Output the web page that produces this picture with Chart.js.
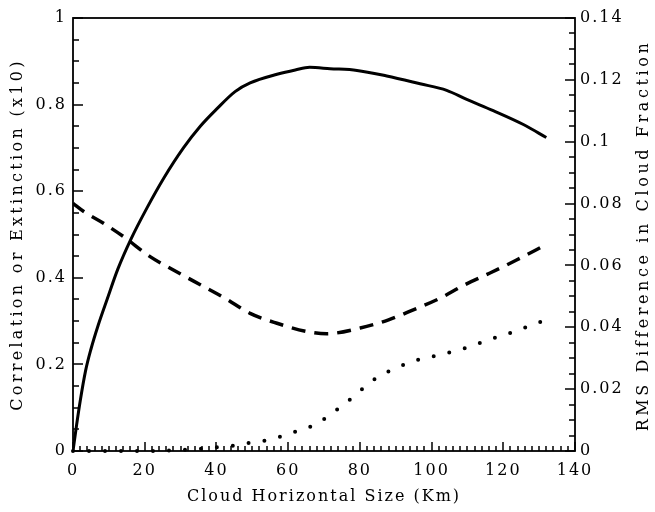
<!DOCTYPE html>
<html>
<head>
<meta charset="utf-8">
<script src="https://cdn.jsdelivr.net/npm/chart.js@4"></script>
<style>
  body { margin: 0; background: #fff; }
  #wrap { width: 655px; height: 512px; }
</style>
</head>
<body>
<div id="wrap"><canvas id="cloudChart" width="655" height="512"></canvas></div>
<script>
// solid curve: correlation (left axis)
var sizeKm = [0, 1, 2, 3.5, 5, 7, 9.5, 12.5, 16.2, 20.6, 25.3, 30.8, 35.5, 40.1, 45.2, 49.4, 56.9, 62, 66, 71.7, 79.2, 87.5, 96.8, 104.2, 109.8, 117.2, 125.6, 132];
var correlation = [0, 0.06, 0.115, 0.185, 0.235, 0.29, 0.35, 0.42, 0.49, 0.561, 0.63, 0.70, 0.75, 0.79, 0.83, 0.85, 0.87, 0.88, 0.886, 0.883, 0.879, 0.866, 0.848, 0.833, 0.812, 0.786, 0.754, 0.724];

// dashed curve: extinction x10 (left axis)
var extKm = [0, 3, 8.5, 14.1, 21.5, 28, 35.5, 42.4, 49.4, 56.9, 65.2, 70.8, 80.1, 88, 94.9, 102.4, 109.3, 116.3, 123.7, 132];
var extinction = [0.572, 0.553, 0.526, 0.495, 0.449, 0.418, 0.384, 0.353, 0.318, 0.295, 0.276, 0.271, 0.284, 0.303, 0.326, 0.353, 0.384, 0.411, 0.441, 0.477];

// dotted curve: RMS difference in cloud fraction (right axis)
var rmsKm = [0, 10, 20, 30, 34, 39, 44, 48.5, 53.3, 57.8, 62.4, 66.9, 71, 75, 78.5, 82.2, 86.1, 90.5, 94.9, 99.4, 104, 108.7, 113.2, 117.6, 122.2, 126.7, 131.4];
var rmsDiff = [0, 0, 0, 0.0003, 0.0006, 0.0011, 0.0016, 0.0025, 0.0033, 0.0046, 0.0064, 0.0082, 0.0111, 0.0146, 0.0178, 0.0216, 0.0246, 0.0270, 0.0291, 0.0303, 0.0316, 0.0330, 0.0348, 0.0366, 0.0383, 0.0402, 0.0422];

var xTicks = [0, 20, 40, 60, 80, 100, 120, 140];
var leftTicks = [0, 0.2, 0.4, 0.6, 0.8, 1];
var rightTicks = [0, 0.02, 0.04, 0.06, 0.08, 0.1, 0.12, 0.14];

function pts(xs, ys) {
  return xs.map(function (x, i) { return { x: x, y: ys[i] }; });
}

var serif = '"DejaVu Serif", "Liberation Serif", serif';
var tickFont = { family: serif, size: 16 };

// inward tick marks, frame and axis titles
var framePlugin = {
  id: 'frame',
  beforeDraw: function (chart) {
    chart.ctx.letterSpacing = '2px';
  },
  afterDraw: function (chart) {
    var ctx = chart.ctx, a = chart.chartArea, s = chart.scales;
    var i, p, len;
    ctx.save();
    ctx.strokeStyle = '#000';
    ctx.lineWidth = 1.5;
    ctx.beginPath();
    for (i = 0; i <= 70; i++) {
      p = Math.round(s.x.getPixelForValue(i * 2));
      len = i % 10 === 0 ? 9 : 5;
      ctx.moveTo(p, a.bottom); ctx.lineTo(p, a.bottom - len);
    }
    for (i = 0; i <= 20; i++) {
      p = Math.round(s.y.getPixelForValue(i * 0.05));
      len = i % 4 === 0 ? 10 : 6;
      ctx.moveTo(a.left, p); ctx.lineTo(a.left + len, p);
    }
    for (i = 0; i <= 28; i++) {
      p = Math.round(s.y2.getPixelForValue(i * 0.005));
      len = i % 4 === 0 ? 10 : 6;
      ctx.moveTo(a.right, p); ctx.lineTo(a.right - len, p);
    }
    ctx.stroke();
    ctx.lineWidth = 1.8;
    ctx.strokeRect(a.left, a.top, a.right - a.left, a.bottom - a.top);

    ctx.fillStyle = '#000';
    ctx.font = '16px ' + serif;
    ctx.textAlign = 'center';
    ctx.textBaseline = 'middle';
    var cy = (a.top + a.bottom) / 2;
    ctx.letterSpacing = '2px';
    ctx.fillText('Cloud Horizontal Size (Km)', (a.left + a.right) / 2, 497);
    ctx.save();
    ctx.letterSpacing = '3.3px';
    ctx.translate(18, cy);
    ctx.rotate(-Math.PI / 2);
    ctx.fillText('Correlation or Extinction (x10)', 0, 0);
    ctx.restore();
    ctx.save();
    ctx.letterSpacing = '3.6px';
    ctx.translate(644, cy + 1);
    ctx.rotate(-Math.PI / 2);
    ctx.fillText('RMS Difference in Cloud Fraction', 0, 0);
    ctx.restore();
    ctx.restore();
  }
};

function fmt(v) { return String(Number(v.toFixed(2))); }

var chart = new Chart(document.getElementById('cloudChart').getContext('2d'), {
  type: 'line',
  data: {
    datasets: [{
      label: 'Correlation',
      data: pts(sizeKm, correlation),
      yAxisID: 'y',
      borderColor: '#000',
      borderWidth: 3,
      pointRadius: 0,
      cubicInterpolationMode: 'monotone'
    },
    {
      label: 'Extinction (x10)',
      data: pts(extKm, extinction),
      yAxisID: 'y',
      borderColor: '#000',
      borderWidth: 3.5,
      borderDash: [14, 9],
      pointRadius: 0,
      cubicInterpolationMode: 'monotone'
    },
    {
      label: 'RMS Difference',
      data: pts(rmsKm, rmsDiff),
      yAxisID: 'y2',
      borderColor: '#000',
      borderWidth: 4,
      borderDash: [0, 16],
      borderCapStyle: 'round',
      pointRadius: 0,
      clip: 4,
      cubicInterpolationMode: 'monotone'
    }]
  },
  options: {
    responsive: false,
    animation: false,
    layout: { padding: { top: 18, left: 0, right: 0, bottom: 0 } },
    plugins: { legend: { display: false }, tooltip: { enabled: false } },
    scales: {
      x: {
        type: 'linear', min: 0, max: 140,
        grid: { display: false, drawTicks: false }, border: { display: false },
        afterFit: function (sc) { sc.height = 61; },
        afterBuildTicks: function (sc) { sc.ticks = xTicks.map(function (v) { return { value: v }; }); },
        ticks: { font: tickFont, color: '#000', padding: 10, maxRotation: 0, callback: fmt }
      },
      y: {
        position: 'left', min: 0, max: 1,
        grid: { display: false, drawTicks: false }, border: { display: false },
        afterFit: function (sc) { sc.width = 73; },
        afterBuildTicks: function (sc) { sc.ticks = leftTicks.map(function (v) { return { value: v }; }); },
        ticks: { font: tickFont, color: '#000', padding: 6, callback: fmt }
      },
      y2: {
        position: 'right', min: 0, max: 0.14,
        grid: { display: false, drawTicks: false }, border: { display: false },
        afterFit: function (sc) { sc.width = 80; },
        afterBuildTicks: function (sc) { sc.ticks = rightTicks.map(function (v) { return { value: v }; }); },
        ticks: { font: tickFont, color: '#000', padding: 5, callback: fmt }
      }
    }
  },
  plugins: [framePlugin]
});
</script>
</body>
</html>
